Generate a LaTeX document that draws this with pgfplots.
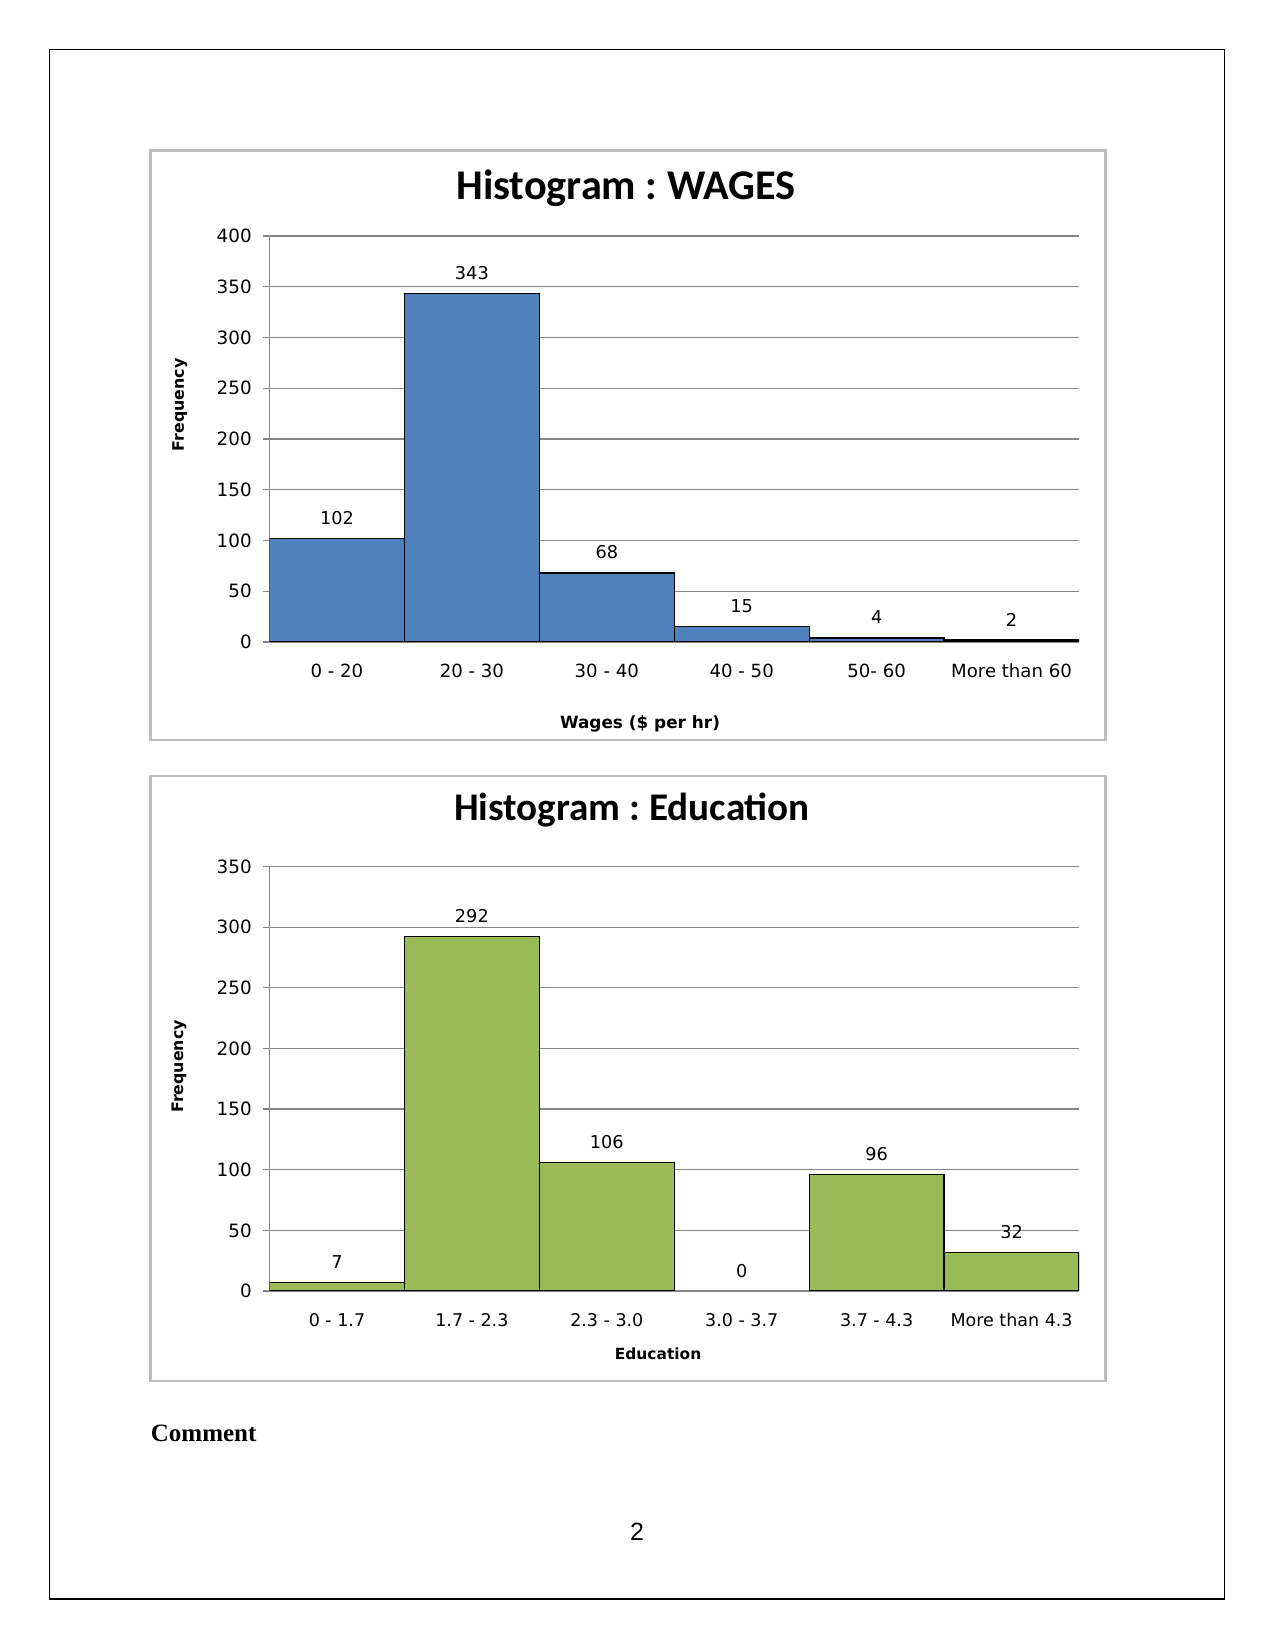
\documentclass[border=0pt]{standalone}
\usepackage{fontspec}
\usepackage{pgfplots}
\pgfplotsset{compat=1.18}
\setmainfont{DejaVu Sans}
\newfontfamily\calfont{Carlito}
\newfontfamily\serfont{Liberation Serif}
\newfontfamily\arfont{Liberation Sans}
\frenchspacing
\definecolor{xlblue}{HTML}{4F81BD}
\definecolor{xlgreen}{HTML}{9BBB59}
\definecolor{gridgray}{RGB}{134,134,134}
\definecolor{boxgray}{RGB}{190,190,190}

\pgfplotsset{
  xlhist/.style={
    scale only axis,
    width=388.56pt,
    ybar, bar width=1, bar shift=0pt,
    xmin=-0.5, xmax=5.5, ymin=0,
    xtick={0,...,5},
    axis x line*=bottom, axis y line*=left,
    axis line style={gridgray, line width=0.6pt},
    ymajorgrids,
    grid style={gridgray, line width=0.6pt},
    tick align=outside,
    major tick length=3pt,
    x tick style={draw=none},
    y tick style={gridgray, line width=0.6pt},
    /pgf/number format/assume math mode=true,
    yticklabel style={font=\fontsize{8.8}{10}\selectfont, xshift=-2pt},
    xticklabel style={font=\fontsize{8.7}{10}\selectfont, anchor=base, yshift=-14pt},
    label style={font=\bfseries\fontsize{7.4}{9}\selectfont},
    nodes near coords,
    every node near coord/.append style={font=\fontsize{8.5}{10}\selectfont, anchor=center, yshift=9.8pt, text=black},
  }
}

\begin{document}
\begin{tikzpicture}
  % page (1 px = 0.48pt)
  \begin{scope}[x=0.48pt, y=0.48pt]
    \fill[white] (0,0) rectangle (1275,1651);
    \draw[black, line width=0.6pt] (49.5,52) rectangle (1224.5,1601.5);
    \draw[boxgray, line width=1.1pt] (150.5,911) rectangle (1105.5,1500.5);
    \draw[boxgray, line width=1.1pt] (150.5,270) rectangle (1105.5,875);
    \node[font=\calfont\bfseries\fontsize{20.3}{24}\selectfont] at (626,1462.5) {Histogram : WAGES};
    \node[font=\calfont\bfseries\fontsize{18.8}{22}\selectfont] at (632,841.4) {Histogram : Education};
    \node[anchor=west, inner sep=0pt, font=\serfont\bfseries\fontsize{12}{14}\selectfont] at (150.5,218) {Comment};
    \node[font=\arfont\fontsize{12}{14}\selectfont] at (637,119) {2};
  \end{scope}

  % Wages
  \begin{axis}[
      xlhist,
      at={(129.36pt,484.32pt)}, anchor=south west,
      height=194.88pt,
      ymax=400, ytick={0,50,...,400},
      xticklabels={0 - 20, 20 - 30, 30 - 40, 40 - 50, 50- 60, More than 60},
      xlabel={Wages (\$ per hr)},
      ylabel={Frequency},
      xlabel style={at={(axis description cs:0.4577,-0.2022)}, anchor=center, font=\bfseries\fontsize{8.1}{9}\selectfont},
      ylabel style={at={(axis description cs:-0.1107,0.584)}, anchor=center, font=\bfseries\fontsize{7.6}{9}\selectfont},
    ]
    \addplot[fill=xlblue, draw=black, line width=0.6pt] coordinates {
      (0,102) (1,343) (2,68) (3,15) (4,4) (5,2)
    };
  \end{axis}

  % Education
  \begin{axis}[
      xlhist,
      at={(129.36pt,172.8pt)}, anchor=south west,
      height=203.76pt,
      ymax=350, ytick={0,50,...,350},
      xticklabels={0 - 1.7, 1.7 - 2.3, 2.3 - 3.0, 3.0 - 3.7, 3.7 - 4.3, More than 4.3},
      xticklabel style={font=\fontsize{8.4}{10}\selectfont},
      xlabel={Education},
      ylabel={Frequency},
      xlabel style={at={(axis description cs:0.48,-0.148)}, anchor=center},
      ylabel style={at={(axis description cs:-0.1117,0.529)}, anchor=center, font=\bfseries\fontsize{7.6}{9}\selectfont},
    ]
    \addplot[fill=xlgreen, draw=black, line width=0.6pt] coordinates {
      (0,7) (1,292) (2,106) (4,96) (5,32)
    };
    % empty class: label only
    \addplot[draw=none, fill=none] coordinates {(3,0)};
  \end{axis}
\end{tikzpicture}
\end{document}
